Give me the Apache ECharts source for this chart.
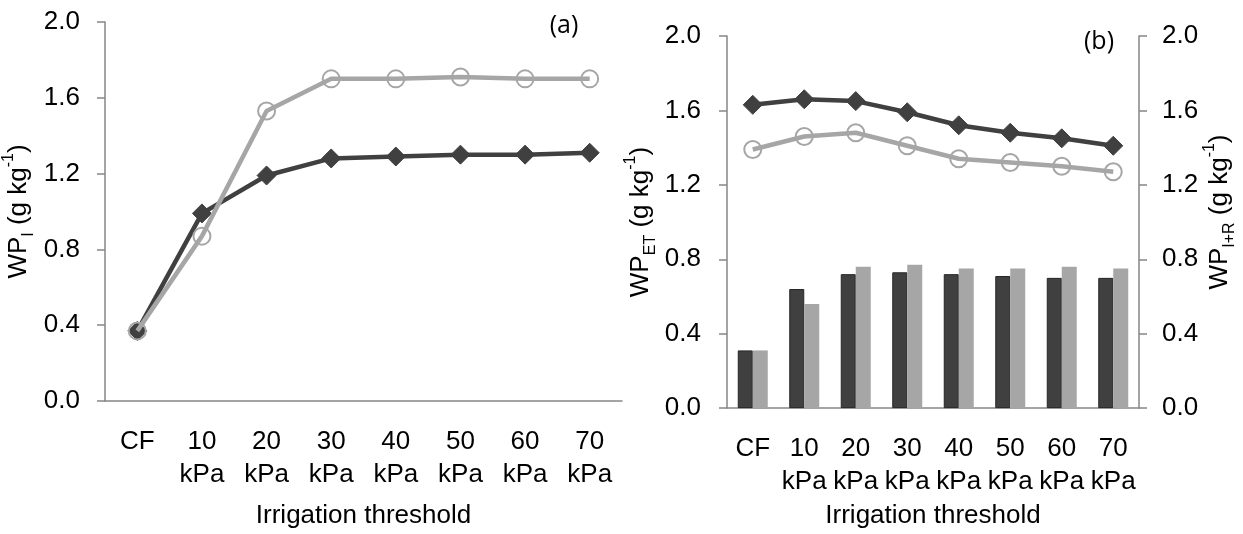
<!DOCTYPE html>
<html>
<head>
<meta charset="utf-8">
<script src="https://cdn.jsdelivr.net/npm/echarts@6/dist/echarts.min.js"></script>
<style>
  html, body { margin: 0; padding: 0; background: #fff; }
  #chart { width: 1243px; height: 534px; }
</style>
</head>
<body>
<div id="chart"></div>
<script>
// categories (irrigation threshold)
var categories = ['CF', '10\nkPa', '20\nkPa', '30\nkPa', '40\nkPa', '50\nkPa', '60\nkPa', '70\nkPa']
var yTicks = [0, 2, 0.4] // min, max, interval

// panel (a) WP_I
var wpIDark = [0.37, 0.99, 1.19, 1.28, 1.29, 1.30, 1.30, 1.31]
var wpIGray = [0.37, 0.87, 1.53, 1.70, 1.70, 1.71, 1.70, 1.70]

// panel (b) WP_ET lines, WP_I+R bars
var wpETDark = [1.63, 1.66, 1.65, 1.59, 1.52, 1.48, 1.45, 1.41]
var wpETGray = [1.39, 1.46, 1.48, 1.41, 1.34, 1.32, 1.30, 1.27]
var wpIRDark = [0.31, 0.64, 0.72, 0.73, 0.72, 0.71, 0.70, 0.70]
var wpIRGray = [0.31, 0.56, 0.76, 0.77, 0.75, 0.75, 0.76, 0.75]

var DARK = '#404040'
var GRAY = '#a6a6a6'
var AXIS = '#868686'
var FONT = 'Liberation Sans, Arial, sans-serif'

var nameRich = {
  b: { fontSize: 26, fontFamily: FONT, color: '#000', lineHeight: 36 },
  sub: { fontSize: 16, fontFamily: FONT, color: '#000', lineHeight: 36, verticalAlign: 'bottom' },
  sup: { fontSize: 16, fontFamily: FONT, color: '#000', lineHeight: 36, verticalAlign: 'top' }
}

function xAxisOf (grid, margin, gap) {
  return {
    type: 'category',
    gridIndex: grid,
    data: categories,
    axisLine: { lineStyle: { color: AXIS, width: 1.5 } },
    axisTick: { length: 8, lineStyle: { color: AXIS, width: 1.5 } },
    axisLabel: { interval: 0, margin: margin, fontSize: 26, lineHeight: 33, color: '#000', fontFamily: FONT },
    name: 'Irrigation threshold',
    nameLocation: 'middle',
    nameGap: gap,
    nameTextStyle: { fontSize: 26, color: '#000', fontFamily: FONT }
  }
}

function yAxisOf (grid, pos, name, gap, margin, padding) {
  return {
    type: 'value',
    gridIndex: grid,
    position: pos,
    min: yTicks[0],
    max: yTicks[1],
    interval: yTicks[2],
    splitLine: { show: false },
    axisLine: { show: true, lineStyle: { color: AXIS, width: 1.5 } },
    axisTick: { show: true, length: 8, lineStyle: { color: AXIS, width: 1.5 } },
    axisLabel: {
      margin: margin,
      fontSize: 26,
      color: '#000',
      fontFamily: FONT,
      formatter: function (v) { return v.toFixed(1) }
    },
    name: name,
    nameLocation: 'middle',
    nameRotate: 90,
    nameGap: gap,
    nameTextStyle: { rich: nameRich, padding: padding || 0 }
  }
}

function lineOf (name, data, color, symbol, xi, yi) {
  var dark = symbol === 'diamond'
  return {
    name: name,
    type: 'line',
    xAxisIndex: xi,
    yAxisIndex: yi,
    data: data,
    symbol: symbol,
    symbolSize: dark ? 19 : 17,
    lineStyle: { color: color, width: 4.5 },
    itemStyle: dark
      ? { color: DARK, borderColor: DARK, borderWidth: 1 }
      : { color: 'transparent', borderColor: GRAY, borderWidth: 2 },
    emphasis: { disabled: true },
    z: dark ? 3 : 4
  }
}

var chart = echarts.init(document.getElementById('chart'), null, { renderer: 'canvas' })

chart.setOption({
  animation: false,
  backgroundColor: '#fff',
  grid: [
    { left: 105, top: 22, width: 517, height: 379 },
    { left: 727, top: 36, width: 412, height: 374 }
  ],
  xAxis: [
    xAxisOf(0, 24, 102),
    xAxisOf(1, 24, 92)
  ],
  yAxis: [
    yAxisOf(0, 'left', '{b|WP}{sub|I}{b| (g kg}{sup|-1}{b|)}', 68, 25),
    yAxisOf(1, 'left', '{b|WP}{sub|ET}{b| (g kg}{sup|-1}{b|)}', 68, 26),
    yAxisOf(1, 'right', '{b|WP}{sub|I+R}{b| (g kg}{sup|-1}{b|)}', 62, 23, [0, 0, 0, 20])
  ],
  graphic: [
    { type: 'text', x: 564, y: 26, style: { text: '(a)', fontSize: 25, fontFamily: 'Open Sans, sans-serif', fill: '#000', align: 'center', verticalAlign: 'middle' } },
    { type: 'text', x: 1099, y: 42, style: { text: '(b)', fontSize: 25, fontFamily: 'Open Sans, sans-serif', fill: '#000', align: 'center', verticalAlign: 'middle' } }
  ],
  series: [
    lineOf('WP_I dark', wpIDark, DARK, 'diamond', 0, 0),
    lineOf('WP_I gray', wpIGray, GRAY, 'circle', 0, 0),
    {
      name: 'WP_I+R dark',
      type: 'bar',
      xAxisIndex: 1,
      yAxisIndex: 2,
      data: wpIRDark,
      barWidth: 15,
      barGap: '0%',
      itemStyle: { color: DARK, borderColor: '#262626', borderWidth: 1 }
    },
    {
      name: 'WP_I+R gray',
      type: 'bar',
      xAxisIndex: 1,
      yAxisIndex: 2,
      data: wpIRGray,
      barWidth: 15,
      barGap: '0%',
      itemStyle: { color: GRAY }
    },
    lineOf('WP_ET dark', wpETDark, DARK, 'diamond', 1, 1),
    lineOf('WP_ET gray', wpETGray, GRAY, 'circle', 1, 1)
  ]
})
</script>
</body>
</html>
